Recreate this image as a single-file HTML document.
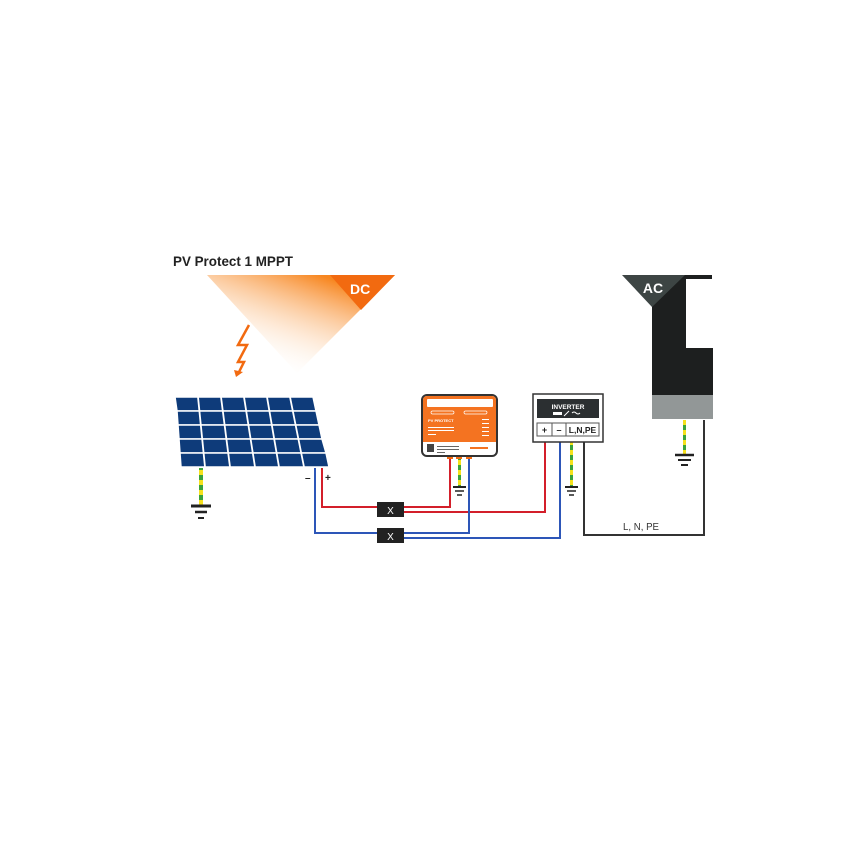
<!DOCTYPE html>
<html><head><meta charset="utf-8"><style>html,body{margin:0;padding:0;background:#fff}svg{display:block}</style></head>
<body>
<svg width="844" height="850" viewBox="0 0 844 850" xmlns="http://www.w3.org/2000/svg" font-family="Liberation Sans, sans-serif">
<defs>
<linearGradient id="g" x1="0.2" y1="0.9" x2="0.75" y2="0.1">
<stop offset="0" stop-color="#fff" stop-opacity="0"/>
<stop offset="1" stop-color="#f7861f"/>
</linearGradient>
<pattern id="gy" width="4" height="10" patternUnits="userSpaceOnUse"><rect width="4" height="5" fill="#f5e11c"/><rect y="5" width="4" height="5" fill="#3aa23c"/></pattern>
</defs>
<text x="173" y="266" font-size="14" font-weight="bold" fill="#222" textLength="120" lengthAdjust="spacingAndGlyphs">PV Protect 1 MPPT</text>
<polygon points="207,275 395,275 297,373" fill="url(#g)"/>
<polygon points="330,275 395,275 361,310" fill="#f26a10"/>
<text x="350" y="294" font-size="14" font-weight="bold" fill="#fff">DC</text>
<polyline points="249,325 238,345 247,345 238,362 244,362 238,374" fill="none" stroke="#f26a10" stroke-width="2.5"/>
<polygon points="234,370 243,372 236,377" fill="#f26a10"/>
<g fill="#0e3b7a" stroke="#fff" stroke-width="1.5">
<polygon points="175,397 313,397 316,411 177,411"/>
<polygon points="177,411 316,411 319,425 178,425"/>
<polygon points="178,425 319,425 322,439 179,439"/>
<polygon points="179,439 322,439 326,453 180,453"/>
<polygon points="180,453 326,453 329,467 181,467"/>
</g>
<g stroke="#fff" stroke-width="1.8">
<line x1="198" y1="397" x2="205" y2="467"/>
<line x1="221" y1="397" x2="230" y2="467"/>
<line x1="244" y1="397" x2="255" y2="467"/>
<line x1="267" y1="397" x2="279" y2="467"/>
<line x1="290" y1="397" x2="304" y2="467"/>
</g>
<rect x="199" y="468" width="4" height="38" fill="url(#gy)"/>
<line x1="191" y1="506" x2="211" y2="506" stroke="#222" stroke-width="3"/>
<line x1="195" y1="512" x2="207" y2="512" stroke="#222" stroke-width="2.5"/>
<line x1="198" y1="518" x2="204" y2="518" stroke="#222" stroke-width="2"/>
<text x="305" y="481" font-size="10" font-weight="bold" fill="#222">–</text>
<text x="325" y="481" font-size="10" font-weight="bold" fill="#222">+</text>
<g fill="none" stroke-width="2">
<polyline points="322,468 322,507 450,507 450,458" stroke="#d31f2a"/>
<polyline points="404,512 545,512 545,442" stroke="#d31f2a"/>
<polyline points="315,468 315,533 469,533 469,458" stroke="#2d56b8"/>
<polyline points="404,538 560,538 560,442" stroke="#2d56b8"/>
<polyline points="584,442 584,535 704,535 704,420" stroke="#333"/>
</g>
<rect x="377" y="502" width="27" height="15" fill="#222"/>
<text x="390.5" y="514" font-size="10" fill="#fff" text-anchor="middle">X</text>
<rect x="377" y="528" width="27" height="15" fill="#222"/>
<text x="390.5" y="540" font-size="10" fill="#fff" text-anchor="middle">X</text>
<rect x="458" y="458" width="3" height="28" fill="url(#gy)"/>
<line x1="453" y1="487" x2="466" y2="487" stroke="#222" stroke-width="2"/>
<line x1="455" y1="491" x2="464" y2="491" stroke="#222" stroke-width="1.5"/>
<line x1="457" y1="495" x2="462" y2="495" stroke="#222" stroke-width="1.5"/>
<rect x="447" y="454" width="6" height="5" fill="#f26a10"/>
<rect x="456" y="454" width="6" height="5" fill="#f26a10"/>
<rect x="466" y="454" width="6" height="5" fill="#f26a10"/>
<rect x="422" y="395" width="75" height="61" rx="5" fill="#fff" stroke="#333" stroke-width="2"/>
<path d="M423,442 V400 a4,4 0 0 1 4,-4 H492 a4,4 0 0 1 4,4 V442 Z" fill="#f47321"/>
<rect x="427" y="399" width="66" height="8" rx="1" fill="#fff"/>
<rect x="431" y="411" width="23" height="3" rx="1.5" fill="none" stroke="#fff" stroke-width="0.7"/>
<rect x="464" y="411" width="23" height="3" rx="1.5" fill="none" stroke="#fff" stroke-width="0.7"/>
<text x="428" y="422" font-size="4" font-weight="bold" fill="#fff">PV PROTECT</text>
<rect x="428" y="427" width="26" height="1" fill="#fff"/><rect x="428" y="430" width="26" height="1" fill="#fff"/><rect x="428" y="434" width="8" height="1" fill="#fff"/>
<rect x="482" y="419" width="7" height="1" fill="#fff"/><rect x="482" y="423" width="7" height="1" fill="#fff"/><rect x="482" y="427" width="7" height="1" fill="#fff"/><rect x="482" y="431" width="7" height="1" fill="#fff"/><rect x="482" y="435" width="7" height="1" fill="#fff"/>
<rect x="427" y="444" width="7" height="8" fill="#444"/>
<rect x="437" y="446" width="22" height="1" fill="#666"/><rect x="437" y="449" width="22" height="1" fill="#666"/><rect x="437" y="452" width="8" height="1" fill="#666"/>
<rect x="470" y="447" width="18" height="2" fill="#f47321"/>
<rect x="570" y="442" width="3" height="44" fill="url(#gy)"/>
<line x1="565" y1="487" x2="578" y2="487" stroke="#222" stroke-width="2"/>
<line x1="567" y1="491" x2="576" y2="491" stroke="#222" stroke-width="1.5"/>
<line x1="569" y1="495" x2="574" y2="495" stroke="#222" stroke-width="1.5"/>
<rect x="533" y="394" width="70" height="48" fill="#fff" stroke="#333" stroke-width="1.5"/>
<rect x="537" y="399" width="62" height="19" fill="#2b2f31"/>
<text x="568" y="409" font-size="6.5" font-weight="bold" fill="#fff" text-anchor="middle">INVERTER</text>
<rect x="553" y="412" width="9" height="3" fill="#fff"/>
<line x1="564" y1="416" x2="569" y2="411" stroke="#fff" stroke-width="1"/>
<path d="M572,413 q2,-2 4,0 t4,0" fill="none" stroke="#fff" stroke-width="1"/>
<rect x="537" y="423" width="15" height="13" fill="#fff" stroke="#555"/>
<rect x="552" y="423" width="14" height="13" fill="#fff" stroke="#555"/>
<rect x="566" y="423" width="33" height="13" fill="#fff" stroke="#555"/>
<text x="544.5" y="433" font-size="9" font-weight="bold" fill="#222" text-anchor="middle">+</text>
<text x="559" y="433" font-size="9" font-weight="bold" fill="#222" text-anchor="middle">–</text>
<text x="582.5" y="433" font-size="8.5" font-weight="bold" fill="#222" text-anchor="middle">L,N,PE</text>
<polygon points="652,275 712,275 712,279 686,279 686,348 713,348 713,395 652,395" fill="#1d1f1f"/>
<rect x="652" y="395" width="61" height="24" fill="#929797"/>
<polygon points="622,275 685,275 652,307" fill="#3d4544"/>
<text x="653" y="293" font-size="14" font-weight="bold" fill="#fff" text-anchor="middle">AC</text>
<rect x="683" y="420" width="3" height="34" fill="url(#gy)"/>
<line x1="675" y1="455" x2="694" y2="455" stroke="#222" stroke-width="2.5"/>
<line x1="678" y1="460" x2="691" y2="460" stroke="#222" stroke-width="2"/>
<line x1="681" y1="465" x2="688" y2="465" stroke="#222" stroke-width="2"/>
<text x="623" y="530" font-size="10" fill="#333" textLength="36" lengthAdjust="spacingAndGlyphs">L, N, PE</text>
</svg>
</body></html>
